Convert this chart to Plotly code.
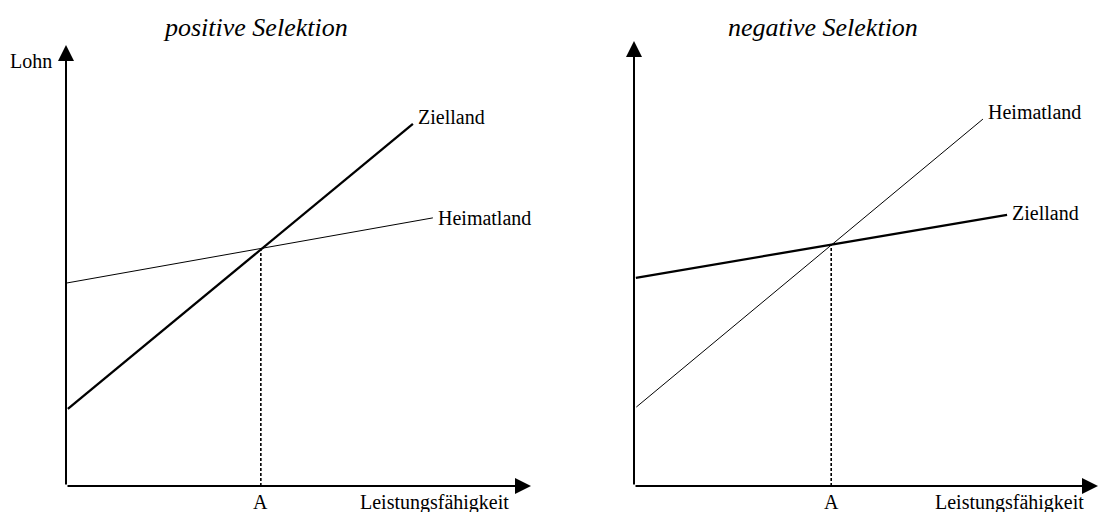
import plotly.graph_objects as go

# ---- data (Leistungsfähigkeit on x, Lohn on y, arbitrary units 0..10) ----
panels = ["positive Selektion", "negative Selektion"]

# left panel
left_ziel_x = [0.04, 7.46]
left_ziel_y = [1.75, 8.21]
left_heim_x = [0.0, 7.89]
left_heim_y = [4.60, 6.08]
left_A_x = 4.19
left_A_y = 5.40

# right panel
right_ziel_x = [0.04, 8.04]
right_ziel_y = [4.72, 6.15]
right_heim_x = [0.05, 7.52]
right_heim_y = [1.79, 8.32]
right_A_x = 4.25
right_A_y = 5.46

x_axis_max = [10.0, 10.0]
y_axis_max = [10.0, 10.09]

axis_label_x = "Leistungsfähigkeit"
axis_label_y = "Lohn"
point_label = "A"

FONT = "Liberation Serif"
BLACK = "#000000"

fig = go.Figure()

def add_panel(i, zx, zy, hx, hy, ax_, ay_):
    xa = "x" if i == 0 else "x2"
    ya = "y" if i == 0 else "y2"
    # dashed drop line
    fig.add_trace(go.Scatter(x=[ax_, ax_], y=[0, ay_], mode="lines",
                             line=dict(color=BLACK, width=1.6, dash="3px,2px"),
                             xaxis=xa, yaxis=ya, showlegend=False, hoverinfo="skip",
                             cliponaxis=False))
    # Heimatland (thin)
    fig.add_trace(go.Scatter(x=hx, y=hy, mode="lines",
                             line=dict(color=BLACK, width=1),
                             xaxis=xa, yaxis=ya, showlegend=False, name="Heimatland",
                             cliponaxis=False))
    # Zielland (thick)
    fig.add_trace(go.Scatter(x=zx, y=zy, mode="lines",
                             line=dict(color=BLACK, width=2.3),
                             xaxis=xa, yaxis=ya, showlegend=False, name="Zielland",
                             cliponaxis=False))
    # axes as arrows
    fig.add_annotation(x=x_axis_max[i], y=0, ax=0, ay=0, xref=xa, yref=ya,
                       axref=xa, ayref=ya, text="", showarrow=True,
                       arrowhead=2, arrowsize=1.6, arrowwidth=2, arrowcolor=BLACK,
                       standoff=0, startstandoff=0)
    fig.add_annotation(x=0, y=y_axis_max[i], ax=0, ay=0, xref=xa, yref=ya,
                       axref=xa, ayref=ya, text="", showarrow=True,
                       arrowhead=2, arrowsize=1.6, arrowwidth=2, arrowcolor=BLACK,
                       standoff=0, startstandoff=0)
    lab = dict(family=FONT, size=20, color=BLACK)
    # line labels
    fig.add_annotation(x=zx[-1], y=zy[-1], xref=xa, yref=ya, text="Zielland",
                       showarrow=False, xanchor="left", yanchor="middle",
                       xshift=3, yshift=7 if i == 0 else 2, font=lab)
    fig.add_annotation(x=hx[-1], y=hy[-1], xref=xa, yref=ya, text="Heimatland",
                       showarrow=False, xanchor="left", yanchor="middle",
                       xshift=3, yshift=0 if i == 0 else 7, font=lab)
    # axis labels
    fig.add_annotation(x=x_axis_max[i], y=0, xref=xa, yref=ya, text=axis_label_x,
                       showarrow=False, xanchor="right", yanchor="middle",
                       xshift=-20 if i == 0 else -12, yshift=-16, font=lab)
    fig.add_annotation(x=0, y=y_axis_max[i], xref=xa, yref=ya, text=axis_label_y,
                       showarrow=False, xanchor="right", yanchor="middle",
                       xshift=-12, yshift=-16, font=lab)
    fig.add_annotation(x=ax_, y=0, xref=xa, yref=ya, text=point_label,
                       showarrow=False, xanchor="center", yanchor="middle",
                       yshift=-16, font=lab)

add_panel(0, left_ziel_x, left_ziel_y, left_heim_x, left_heim_y, left_A_x, left_A_y)
add_panel(1, right_ziel_x, right_ziel_y, right_heim_x, right_heim_y, right_A_x, right_A_y)

# panel titles
for cx, t in zip([255 / 1100, 823 / 1100], panels):
    fig.add_annotation(x=cx, y=(512 - 27) / 512, xref="paper", yref="paper",
                       text=f"<i>{t}</i>", showarrow=False, xanchor="center",
                       yanchor="middle", font=dict(family=FONT, size=26, color=BLACK))

ydom = [(512 - 486) / 512, (512 - 45) / 512]
ax_common = dict(visible=False, range=[0, 10], fixedrange=True)
fig.update_layout(
    width=1100, height=512,
    margin=dict(l=0, r=0, t=0, b=0),
    paper_bgcolor="white", plot_bgcolor="white",
    xaxis=dict(ax_common, domain=[66 / 1100, 531 / 1100]),
    yaxis=dict(ax_common, domain=ydom),
    xaxis2=dict(ax_common, domain=[634 / 1100, 1098 / 1100]),
    yaxis2=dict(ax_common, domain=ydom),
    showlegend=False,
)

fig.write_html("out.html", config={"displayModeBar": False},
               post_script="document.body.style.margin='0';")
